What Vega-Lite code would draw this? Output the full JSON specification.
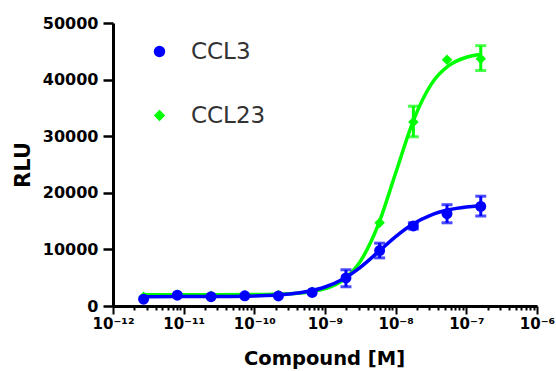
{
  "$schema": "https://vega.github.io/schema/vega-lite/v6.json",
  "width": 424,
  "height": 283,
  "autosize": "none",
  "padding": {"left": 113, "top": 23, "right": 19, "bottom": 65},
  "background": "white",
  "config": {"view": {"stroke": null}, "font": "DejaVu Sans"},
  "datasets": {
    "pts": [
      {"series": "CCL23", "x": 2.71e-12, "y": 1650},
      {"series": "CCL23", "x": 8.13e-12, "y": 2000},
      {"series": "CCL23", "x": 2.44e-11, "y": 1800},
      {"series": "CCL23", "x": 7.32e-11, "y": 1900},
      {"series": "CCL23", "x": 2.19e-10, "y": 1950},
      {"series": "CCL23", "x": 6.58e-10, "y": 2500},
      {"series": "CCL23", "x": 1.98e-9, "y": 4900},
      {"series": "CCL23", "x": 5.93e-9, "y": 14700},
      {"series": "CCL23", "x": 1.78e-8, "y": 32500},
      {"series": "CCL23", "x": 5.33e-8, "y": 43500},
      {"series": "CCL23", "x": 1.6e-7, "y": 43700},
      {"series": "CCL3", "x": 2.71e-12, "y": 1200},
      {"series": "CCL3", "x": 8.13e-12, "y": 1900},
      {"series": "CCL3", "x": 2.44e-11, "y": 1650},
      {"series": "CCL3", "x": 7.32e-11, "y": 1800},
      {"series": "CCL3", "x": 2.19e-10, "y": 1780},
      {"series": "CCL3", "x": 6.58e-10, "y": 2400},
      {"series": "CCL3", "x": 1.98e-9, "y": 4950},
      {"series": "CCL3", "x": 5.93e-9, "y": 9800},
      {"series": "CCL3", "x": 1.78e-8, "y": 14150},
      {"series": "CCL3", "x": 5.33e-8, "y": 16300},
      {"series": "CCL3", "x": 1.6e-7, "y": 17600}
    ],
    "errs": [
      {"series": "CCL23", "x": 1.78e-8, "lo": 29900, "hi": 35300},
      {"series": "CCL23", "x": 1.6e-7, "lo": 41600, "hi": 46000},
      {"series": "CCL3", "x": 1.98e-9, "lo": 3400, "hi": 6400},
      {"series": "CCL3", "x": 5.93e-9, "lo": 8500, "hi": 11100},
      {"series": "CCL3", "x": 1.78e-8, "lo": 13600, "hi": 14700},
      {"series": "CCL3", "x": 5.33e-8, "lo": 14700, "hi": 17900},
      {"series": "CCL3", "x": 1.6e-7, "lo": 15900, "hi": 19400}
    ],
    "curves": [
      {"series": "CCL23", "x": 2.71e-12, "y": 2000},
      {"series": "CCL23", "x": 1e-11, "y": 2001},
      {"series": "CCL23", "x": 3.16e-11, "y": 2004},
      {"series": "CCL23", "x": 1e-10, "y": 2027},
      {"series": "CCL23", "x": 3.16e-10, "y": 2170},
      {"series": "CCL23", "x": 5.62e-10, "y": 2426},
      {"series": "CCL23", "x": 1e-9, "y": 3054},
      {"series": "CCL23", "x": 1.78e-9, "y": 4550},
      {"series": "CCL23", "x": 3.16e-9, "y": 7882},
      {"series": "CCL23", "x": 5.62e-9, "y": 14242},
      {"series": "CCL23", "x": 1e-8, "y": 23500},
      {"series": "CCL23", "x": 1.78e-8, "y": 32758},
      {"series": "CCL23", "x": 3.16e-8, "y": 39118},
      {"series": "CCL23", "x": 5.62e-8, "y": 42450},
      {"series": "CCL23", "x": 1e-7, "y": 43947},
      {"series": "CCL23", "x": 1.6e-7, "y": 44488},
      {"series": "CCL3", "x": 2.71e-12, "y": 1652},
      {"series": "CCL3", "x": 1e-11, "y": 1658},
      {"series": "CCL3", "x": 3.16e-11, "y": 1680},
      {"series": "CCL3", "x": 1e-10, "y": 1768},
      {"series": "CCL3", "x": 3.16e-10, "y": 2114},
      {"series": "CCL3", "x": 5.62e-10, "y": 2550},
      {"series": "CCL3", "x": 1e-9, "y": 3354},
      {"series": "CCL3", "x": 1.78e-9, "y": 4730},
      {"series": "CCL3", "x": 3.16e-9, "y": 6827},
      {"series": "CCL3", "x": 5.62e-9, "y": 9511},
      {"series": "CCL3", "x": 1e-8, "y": 12269},
      {"series": "CCL3", "x": 1.78e-8, "y": 14534},
      {"series": "CCL3", "x": 3.16e-8, "y": 16077},
      {"series": "CCL3", "x": 5.62e-8, "y": 16999},
      {"series": "CCL3", "x": 1e-7, "y": 17506},
      {"series": "CCL3", "x": 1.6e-7, "y": 17732}
    ]
  },
  "encoding": {
    "x": {
      "field": "x",
      "type": "quantitative",
      "scale": {"type": "log", "domain": [1e-12, 1e-6], "nice": false},
      "axis": {
        "title": "Compound [M]",
        "values": [1e-12, 2e-12, 3e-12, 4e-12, 5e-12, 6e-12, 7e-12, 8e-12, 9e-12,
                   1e-11, 2e-11, 3e-11, 4e-11, 5e-11, 6e-11, 7e-11, 8e-11, 9e-11,
                   1e-10, 2e-10, 3e-10, 4e-10, 5e-10, 6e-10, 7e-10, 8e-10, 9e-10,
                   1e-9, 2e-9, 3e-9, 4e-9, 5e-9, 6e-9, 7e-9, 8e-9, 9e-9,
                   1e-8, 2e-8, 3e-8, 4e-8, 5e-8, 6e-8, 7e-8, 8e-8, 9e-8,
                   1e-7, 2e-7, 3e-7, 4e-7, 5e-7, 6e-7, 7e-7, 8e-7, 9e-7, 1e-6],
        "labelExpr": "abs(log(datum.value)/LN10 - round(log(datum.value)/LN10)) > 0.001 ? '' : round(log(datum.value)/LN10) == -12 ? '10⁻¹²' : round(log(datum.value)/LN10) == -11 ? '10⁻¹¹' : round(log(datum.value)/LN10) == -10 ? '10⁻¹⁰' : round(log(datum.value)/LN10) == -9 ? '10⁻⁹' : round(log(datum.value)/LN10) == -8 ? '10⁻⁸' : round(log(datum.value)/LN10) == -7 ? '10⁻⁷' : '10⁻⁶'",
        "labelAlign": "center",
        "labelBaseline": "alphabetic",
        "labelPadding": 14,
        "labelFlush": false,
        "labelOverlap": false,
        "labelBound": false,
        "labelFont": "DejaVu Sans",
        "labelFontWeight": "bold",
        "labelFontSize": 15,
        "labelColor": "#000000",
        "tickSize": {"condition": {"test": "abs(log(datum.value)/LN10 - round(log(datum.value)/LN10)) < 0.001", "value": 8}, "value": 4},
        "tickWidth": 2,
        "tickColor": "#000000",
        "domainColor": "#000000",
        "domainWidth": 3,
        "grid": false,
        "titleFont": "DejaVu Sans",
        "titleFontWeight": "bold",
        "titleFontSize": 19.5,
        "titleColor": "#000000",
        "titleBaseline": "alphabetic",
        "titleX": 211,
        "titleY": 58
      }
    },
    "y": {
      "field": "y",
      "type": "quantitative",
      "scale": {"domain": [0, 50000], "nice": false},
      "axis": {
        "title": "RLU",
        "values": [0, 10000, 20000, 30000, 40000, 50000],
        "format": "d",
        "labelFont": "DejaVu Sans",
        "labelFontWeight": "bold",
        "labelFontSize": 16,
        "labelColor": "#000000",
        "labelPadding": 5,
        "tickSize": 10,
        "tickWidth": 2.5,
        "tickColor": "#000000",
        "domainColor": "#000000",
        "domainWidth": 3,
        "grid": false,
        "titleFont": "DejaVu Sans",
        "titleFontWeight": "bold",
        "titleFontSize": 21,
        "titleColor": "#000000",
        "titleBaseline": "alphabetic",
        "titleAngle": 270,
        "titleX": -84,
        "titleY": 141.5
      }
    }
  },
  "layer": [
    {
      "data": {"name": "curves"},
      "transform": [{"filter": "datum.series == 'CCL23'"}],
      "mark": {"type": "line", "color": "#00ff00", "strokeWidth": 3.5, "interpolate": "monotone"},
      "encoding": {}
    },
    {
      "data": {"name": "errs"},
      "transform": [{"filter": "datum.series == 'CCL23'"}],
      "mark": {"type": "rule", "color": "#00ff00", "strokeWidth": 3},
      "encoding": {"y": {"field": "lo", "type": "quantitative"}, "y2": {"field": "hi"}}
    },
    {
      "data": {"name": "errs"},
      "transform": [{"filter": "datum.series == 'CCL23'"}, {"fold": ["lo", "hi"], "as": ["end", "v"]}],
      "mark": {"type": "tick", "orient": "horizontal", "color": "#00ff00", "size": 11, "thickness": 3},
      "encoding": {"y": {"field": "v", "type": "quantitative"}}
    },
    {
      "data": {"name": "pts"},
      "transform": [{"filter": "datum.series == 'CCL23'"}],
      "mark": {"type": "point", "filled": true, "opacity": 1, "size": 110},
      "encoding": {
        "color": {"field": "series", "type": "nominal", "scale": {"domain": ["CCL3", "CCL23"], "range": ["#0000ff", "#00ff00"]},
          "legend": {"orient": "none", "legendX": 35, "legendY": 17, "title": null, "labelFont": "DejaVu Sans", "labelFontSize": 23, "labelColor": "#333333", "symbolSize": 130, "rowPadding": 40, "labelOffset": 20, "symbolStrokeWidth": 0, "symbolOpacity": 1}},
        "shape": {"field": "series", "type": "nominal", "scale": {"domain": ["CCL3", "CCL23"], "range": ["circle", "diamond"]},
          "legend": {"orient": "none", "legendX": 35, "legendY": 17, "title": null, "labelFont": "DejaVu Sans", "labelFontSize": 23, "labelColor": "#333333", "symbolSize": 130, "rowPadding": 40, "labelOffset": 20, "symbolStrokeWidth": 0, "symbolOpacity": 1}}
      }
    },
    {
      "data": {"name": "curves"},
      "transform": [{"filter": "datum.series == 'CCL3'"}],
      "mark": {"type": "line", "color": "#0000ff", "strokeWidth": 3.5, "interpolate": "monotone"},
      "encoding": {}
    },
    {
      "data": {"name": "errs"},
      "transform": [{"filter": "datum.series == 'CCL3'"}],
      "mark": {"type": "rule", "color": "#0000ff", "strokeWidth": 3},
      "encoding": {"y": {"field": "lo", "type": "quantitative"}, "y2": {"field": "hi"}}
    },
    {
      "data": {"name": "errs"},
      "transform": [{"filter": "datum.series == 'CCL3'"}, {"fold": ["lo", "hi"], "as": ["end", "v"]}],
      "mark": {"type": "tick", "orient": "horizontal", "color": "#0000ff", "size": 11, "thickness": 3},
      "encoding": {"y": {"field": "v", "type": "quantitative"}}
    },
    {
      "data": {"name": "pts"},
      "transform": [{"filter": "datum.series == 'CCL3'"}],
      "mark": {"type": "point", "filled": true, "opacity": 1, "size": 120},
      "encoding": {
        "color": {"field": "series", "type": "nominal"},
        "shape": {"field": "series", "type": "nominal"}
      }
    }
  ]
}
